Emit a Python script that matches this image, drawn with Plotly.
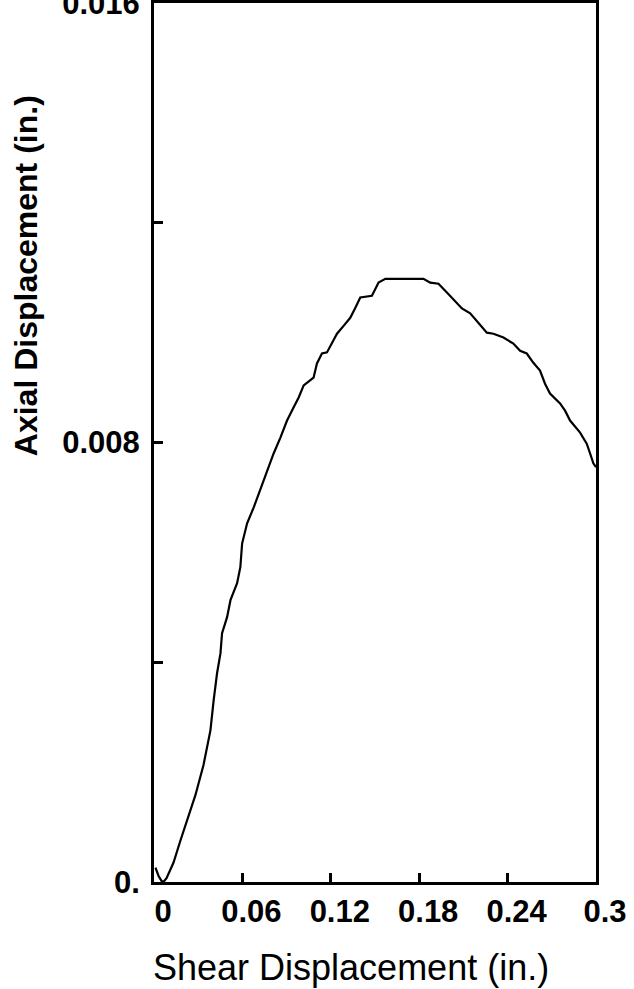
import plotly.graph_objects as go

# Shear displacement (in.) vs axial displacement (in.) measured during the direct shear test
shear_disp = [
    0.0010, 0.0031, 0.0051, 0.0064, 0.0085, 0.0132, 0.0180, 0.0227, 0.0281, 0.0336,
    0.0383, 0.0405, 0.0428, 0.0451, 0.0462, 0.0496, 0.0519, 0.0564, 0.0586, 0.0598,
    0.0620, 0.0632, 0.0677, 0.0711, 0.0744, 0.0778, 0.0812, 0.0858, 0.0903, 0.0948,
    0.0982, 0.1016, 0.1083, 0.1106, 0.1140, 0.1174, 0.1208, 0.1242, 0.1298, 0.1332,
    0.1366, 0.1400, 0.1479, 0.1524, 0.1570, 0.1829, 0.1875, 0.1931, 0.1988, 0.2056,
    0.2090, 0.2146, 0.2202, 0.2259, 0.2304, 0.2372, 0.2439, 0.2485, 0.2530, 0.2575,
    0.2620, 0.2654, 0.2688, 0.2756, 0.2790, 0.2824, 0.2892, 0.2937, 0.2960, 0.2982,
    0.3000,
]
axial_disp = [
    0.00026, 0.00011, 0.00002, 0.00000, 0.00007, 0.00035, 0.00076, 0.00113, 0.00158, 0.00213,
    0.00276, 0.00331, 0.00380, 0.00416, 0.00453, 0.00482, 0.00513, 0.00544, 0.00573, 0.00616,
    0.00640, 0.00653, 0.00682, 0.00707, 0.00731, 0.00755, 0.00780, 0.00809, 0.00840, 0.00864,
    0.00882, 0.00904, 0.00918, 0.00944, 0.00962, 0.00964, 0.00980, 0.00998, 0.01016, 0.01027,
    0.01045, 0.01064, 0.01067, 0.01091, 0.01098, 0.01098, 0.01091, 0.01089, 0.01073, 0.01053,
    0.01044, 0.01035, 0.01018, 0.01000, 0.00998, 0.00991, 0.00980, 0.00967, 0.00962, 0.00945,
    0.00931, 0.00907, 0.00889, 0.00871, 0.00858, 0.00840, 0.00818, 0.00798, 0.00780, 0.00762,
    0.00755,
]

x_tick_vals = [0, 0.06, 0.12, 0.18, 0.24, 0.3]
x_tick_text = ["0", "0.06", "0.12", "0.18", "0.24", "0.3"]
y_tick_vals = [0, 0.004, 0.008, 0.012, 0.016]
y_tick_text = ["0.", "", "0.008", "", "0.016"]

FONT = "Liberation Sans, Arial, Helvetica, sans-serif"

fig = go.Figure()
fig.add_trace(go.Scatter(
    x=shear_disp, y=axial_disp, mode="lines",
    line=dict(color="black", width=2.2),
    hoverinfo="skip", showlegend=False,
))

axis_common = dict(
    showline=True, linecolor="black", linewidth=3, mirror=True,
    showgrid=False, zeroline=False,
    ticks="inside", ticklen=9, tickwidth=3, tickcolor="black",
    ticklabeloverflow="allow", automargin=False,
)

fig.update_layout(
    width=634, height=989,
    margin=dict(l=154, r=38, t=3, b=107),
    paper_bgcolor="white", plot_bgcolor="white",
    font=dict(family=FONT, color="black"),
    xaxis=dict(
        range=[0, 0.3], tickvals=x_tick_vals, ticktext=x_tick_text,
        tickfont=dict(family=FONT, size=31, weight="bold"),
        ticklabelshift=9, ticklabelstandoff=0,
        **axis_common,
    ),
    yaxis=dict(
        range=[0, 0.016], tickvals=y_tick_vals, ticktext=y_tick_text,
        tickfont=dict(family=FONT, size=31, weight="bold"),
        ticklabelstandoff=5,
        **axis_common,
    ),
    annotations=[
        dict(text="Axial Displacement (in.)", textangle=-90,
             xref="paper", yref="paper", x=-0.288, y=0.69,
             xanchor="center", yanchor="middle", showarrow=False,
             font=dict(family=FONT, size=32, weight="bold")),
        dict(text="Shear Displacement (in.)",
             xref="paper", yref="paper", x=0.446, y=-0.097,
             xanchor="center", yanchor="middle", showarrow=False,
             font=dict(family=FONT, size=36)),
    ],
)

fig.write_html("out.html")
